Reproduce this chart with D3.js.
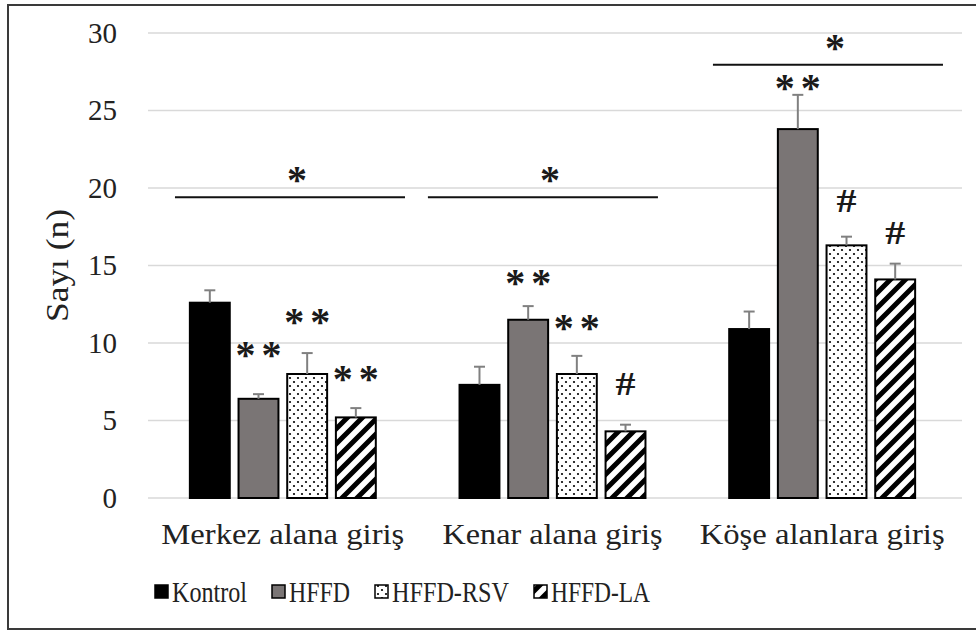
<!DOCTYPE html>
<html><head><meta charset="utf-8">
<script src="https://cdn.jsdelivr.net/npm/d3@7"></script>
<style>body{margin:0;background:#fff} svg{display:block} text{font-family:"Liberation Serif","Times New Roman",serif}</style>
</head><body><svg id="c" width="976" height="635"></svg>
<script>
// ---- data ----
const categories = ["Merkez alana giriş", "Kenar alana giriş", "Köşe alanlara giriş"];
const seriesNames = ["Kontrol", "HFFD", "HFFD-RSV", "HFFD-LA"];
const kontrol  = [12.6, 7.3, 10.9];
const hffd     = [6.4, 11.5, 23.8];
const hffdRsv  = [8.0, 8.0, 16.3];
const hffdLa   = [5.2, 4.3, 14.1];
const errKontrol = [0.8, 1.17, 1.13];
const errHffd    = [0.3, 0.88, 2.21];
const errHffdRsv = [1.35, 1.17, 0.56];
const errHffdLa  = [0.6, 0.43, 1.02];
// significance marks above bars (text, vertical centre in data units)
const markKontrol = [null, null, null];
const markHffd    = ["**", "**", "**"];
const markHffdRsv = ["**", "**", "#"];
const markHffdLa  = ["**", "#", "#"];
const markYKontrol = [null, null, null];
const markYHffd    = [9.7, 14.3, 26.9];
const markYHffdRsv = [11.8, 11.4, 19.2];
const markYHffdLa  = [8.1, 7.4, 17.1];
// group significance lines
const sigLevel = [19.4, 19.4, 27.95];
const sigStart = [0.100, 0.038, 0.095];   // fraction of category band
const sigEnd   = [0.953, 0.891, 0.948];
const sigStarY = [21.0, 21.0, 29.5];
const sigText  = ["*", "*", "*"];
const yTicks = [0, 5, 10, 15, 20, 25, 30];
const yTitle = "Sayı (n)";

const valueArrays = [kontrol, hffd, hffdRsv, hffdLa];
const errArrays = [errKontrol, errHffd, errHffdRsv, errHffdLa];
const markArrays = [markKontrol, markHffd, markHffdRsv, markHffdLa];
const markYArrays = [markYKontrol, markYHffd, markYHffdRsv, markYHffdLa];

const rows = [];
categories.forEach((c, ci) => seriesNames.forEach((s, si) => rows.push({
  cat: c, ci, ser: s, si, v: valueArrays[si][ci], e: errArrays[si][ci],
  mark: markArrays[si][ci], markY: markYArrays[si][ci]
})));

// ---- layout ----
const svg = d3.select("#c");
const FONT = '"Liberation Serif", "Times New Roman", serif';
const y = d3.scaleLinear().domain([0, 30]).range([498, 33]);
const x0 = d3.scaleBand().domain(categories).range([148, 957]).padding(0);
const x1 = d3.scaleBand().domain(seriesNames).range([0, x0.bandwidth()])
  .paddingInner(0.18).paddingOuter(0.86);

// patterns
const defs = svg.append("defs");
const pd = defs.append("pattern").attr("id", "dots").attr("patternUnits", "userSpaceOnUse")
  .attr("width", 8).attr("height", 8);
pd.append("rect").attr("width", 8).attr("height", 8).attr("fill", "#fff");
pd.append("circle").attr("cx", 2).attr("cy", 2).attr("r", 1.1).attr("fill", "#000");
pd.append("circle").attr("cx", 6).attr("cy", 6).attr("r", 1.1).attr("fill", "#000");
const ps = defs.append("pattern").attr("id", "stripes").attr("patternUnits", "userSpaceOnUse")
  .attr("width", 15).attr("height", 15);
ps.append("rect").attr("width", 15).attr("height", 15).attr("fill", "#fff");
ps.append("path").attr("d", "M-4,4 L4,-4 M0,15 L15,0 M11,19 L19,11")
  .attr("stroke", "#000").attr("stroke-width", 5);

const fills = {"Kontrol": "#000", "HFFD": "#7a7575", "HFFD-RSV": "url(#dots)", "HFFD-LA": "url(#stripes)"};

// frame
svg.append("rect").attr("x", 8).attr("y", 5).attr("width", 990).attr("height", 624)
  .attr("fill", "none").attr("stroke", "#3a3a3a").attr("stroke-width", 2);

// gridlines
svg.append("g").selectAll("line").data(yTicks).join("line")
  .attr("x1", 148).attr("x2", 962)
  .attr("y1", d => y(d)).attr("y2", d => y(d))
  .attr("stroke", "#d9d9d9").attr("stroke-width", 1.5);

// y axis
const ya = svg.append("g").attr("transform", "translate(148,0)")
  .call(d3.axisLeft(y).tickValues(yTicks).tickSize(0).tickPadding(31));
ya.select(".domain").remove();
ya.selectAll("text").style("font-family", FONT).attr("font-size", 29).attr("fill", "#222");

svg.append("text").attr("transform", "translate(57," + y(15) + ") rotate(-90)")
  .attr("text-anchor", "middle").attr("dominant-baseline", "central")
  .style("font-family", FONT).attr("font-size", 31).attr("fill", "#222")
  .attr("textLength", 113).attr("lengthAdjust", "spacingAndGlyphs")
  .text(yTitle);

// bars
const bx = d => x0(d.cat) + x1(d.ser);
svg.append("g").selectAll("rect").data(rows).join("rect")
  .attr("x", bx).attr("width", x1.bandwidth())
  .attr("y", d => y(d.v)).attr("height", d => y(0) - y(d.v))
  .attr("fill", d => fills[d.ser]).attr("stroke", "#000").attr("stroke-width", 2);

// error bars
const eg = svg.append("g").attr("stroke", "#808080").attr("stroke-width", 2);
eg.selectAll("line.v").data(rows).join("line").attr("class", "v")
  .attr("x1", d => bx(d) + x1.bandwidth() / 2).attr("x2", d => bx(d) + x1.bandwidth() / 2)
  .attr("y1", d => y(d.v)).attr("y2", d => y(d.v + d.e));
eg.selectAll("line.c").data(rows).join("line").attr("class", "c")
  .attr("x1", d => bx(d) + x1.bandwidth() / 2 - 5.5).attr("x2", d => bx(d) + x1.bandwidth() / 2 + 5.5)
  .attr("y1", d => y(d.v + d.e)).attr("y2", d => y(d.v + d.e));

// marks above bars
const STAR = 40, HASH = 33, GAP = 6;
const markRows = rows.filter(d => d.mark);
const isHash = d => d.mark === "#";
svg.append("g").selectAll("text").data(markRows).join("text")
  .attr("x", d => bx(d) + x1.bandwidth() / 2 + (isHash(d) ? 0 : GAP / 2))
  .attr("y", d => isHash(d) ? y(d.markY) + HASH * 0.34 : y(d.markY) + STAR * 0.5)
  .attr("text-anchor", "middle").style("font-family", FONT)
  .attr("font-size", d => isHash(d) ? HASH : STAR)
  .attr("letter-spacing", d => isHash(d) ? 0 : GAP)
  .attr("font-weight", "bold")
  .attr("fill", "#1a1a1a")
  .each(function (d) {
    if (isHash(d)) d3.select(this).attr("textLength", 20).attr("lengthAdjust", "spacingAndGlyphs");
  })
  .text(d => d.mark);

// group significance lines
const sig = categories.map((c, i) => ({c, i}));
svg.append("g").selectAll("line").data(sig).join("line")
  .attr("x1", d => x0(d.c) + sigStart[d.i] * x0.bandwidth())
  .attr("x2", d => x0(d.c) + sigEnd[d.i] * x0.bandwidth())
  .attr("y1", d => y(sigLevel[d.i])).attr("y2", d => y(sigLevel[d.i]))
  .attr("stroke", "#111").attr("stroke-width", 2);
svg.append("g").selectAll("text").data(sig).join("text")
  .attr("x", d => x0(d.c) + (sigStart[d.i] + sigEnd[d.i]) / 2 * x0.bandwidth() + 7)
  .attr("y", d => y(sigStarY[d.i]) + STAR * 0.5)
  .attr("text-anchor", "middle").style("font-family", FONT).attr("font-size", STAR)
  .attr("font-weight", "bold").attr("fill", "#1a1a1a")
  .text(d => sigText[d.i]);

// x labels
const xLabelWidths = [243, 220, 245];
svg.append("g").selectAll("text").data(categories).join("text")
  .attr("x", d => x0(d) + x0.bandwidth() / 2).attr("y", 544)
  .attr("text-anchor", "middle").style("font-family", FONT).attr("font-size", 29).attr("fill", "#222")
  .attr("textLength", (d, i) => xLabelWidths[i]).attr("lengthAdjust", "spacingAndGlyphs")
  .text(d => d);

// legend
const legendWidths = [75, 61, 117, 99];
let lx = 155;
const lg = svg.append("g");
seriesNames.forEach((s, i) => {
  lg.append("rect").attr("x", lx).attr("y", 585).attr("width", 13).attr("height", 13)
    .attr("fill", fills[s]).attr("stroke", "#000").attr("stroke-width", 1.5);
  lg.append("text").attr("x", lx + 17).attr("y", 602)
    .style("font-family", FONT).attr("font-size", 30).attr("fill", "#222")
    .attr("textLength", legendWidths[i]).attr("lengthAdjust", "spacingAndGlyphs")
    .text(s);
  lx += 17 + legendWidths[i] + 25;
});
</script></body></html>
